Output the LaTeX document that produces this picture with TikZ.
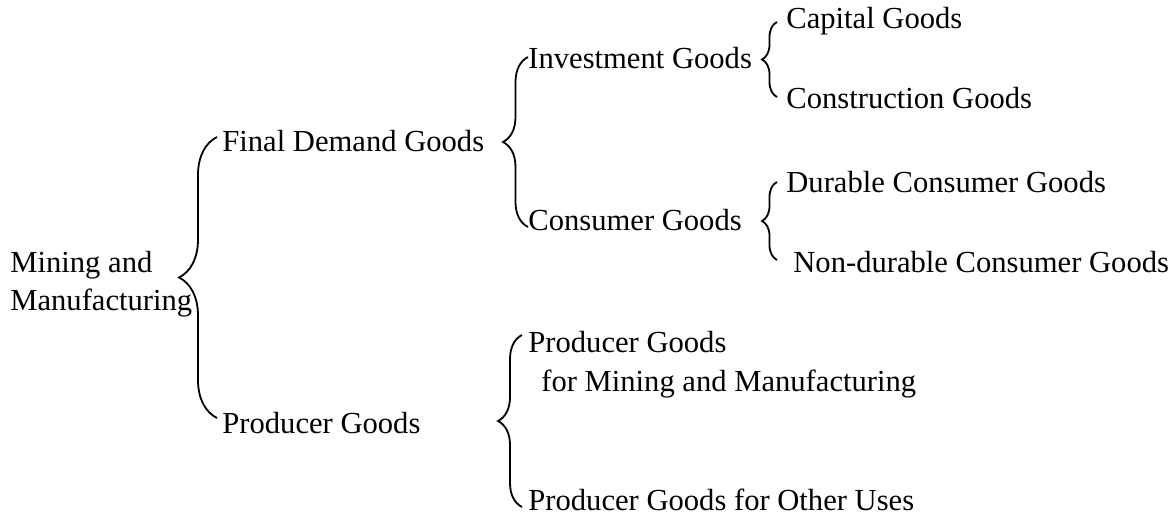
\documentclass[tikz,border=0pt]{standalone}
\usepackage{fontspec}
\setmainfont{Liberation Serif}
\usetikzlibrary{decorations.pathreplacing}
\tikzset{
  lbl/.style={anchor=base west, inner sep=0pt, font=\fontsize{15.3}{18}\selectfont},
  brc/.style={decorate, decoration={brace, amplitude=#1}, line width=0.9pt},
}
\begin{document}
\begin{tikzpicture}[x=0.5pt, y=-0.5pt]
            \useasboundingbox (0,0) rectangle (1174,519);
            % labels
            \node[lbl] (mm1) at (10,272) {Mining and};
            \node[lbl] (mm2) at (10,310) {Manufacturing};
            \node[lbl] (fdg) at (222,152) {Final Demand Goods};
            \node[lbl] (pg) at (222,433) {Producer Goods};
            \node[lbl] (ig) at (528,69) {Investment Goods};
            \node[lbl] (cg) at (528,231) {Consumer Goods};
            \node[lbl] (capg) at (786,29) {Capital Goods};
            \node[lbl] (cong) at (786,109) {Construction Goods};
            \node[lbl] (dcg) at (786,192) {Durable Consumer Goods};
            \node[lbl] (ndcg) at (793,272) {Non-durable Consumer Goods};
            \node[lbl] (pgmm1) at (528,352) {Producer Goods};
            \node[lbl] (pgmm2) at (541,391) {for Mining and Manufacturing};
            \node[lbl] (pgou) at (528,510) {Producer Goods for Other Uses};
            % brace ends
            \coordinate (mmT) at (217,137);
            \coordinate (mmB) at (217,418);
            \coordinate (fdT) at (528,57);
            \coordinate (fdB) at (528,227);
            \coordinate (igT) at (777,22);
            \coordinate (igB) at (777,97);
            \coordinate (cgT) at (777,182);
            \coordinate (cgB) at (777,260);
            \coordinate (pgT) at (522,335);
            \coordinate (pgB) at (522,507);
            % braces
            \draw[brc=19pt] (mmB) -- (mmT);
            \draw[brc=12.5pt] (fdB) -- (fdT);
            \draw[brc=7.5pt] (igB) -- (igT);
            \draw[brc=7.5pt] (cgB) -- (cgT);
            \draw[brc=12pt] (pgB) -- (pgT);
        \end{tikzpicture}
\end{document}
